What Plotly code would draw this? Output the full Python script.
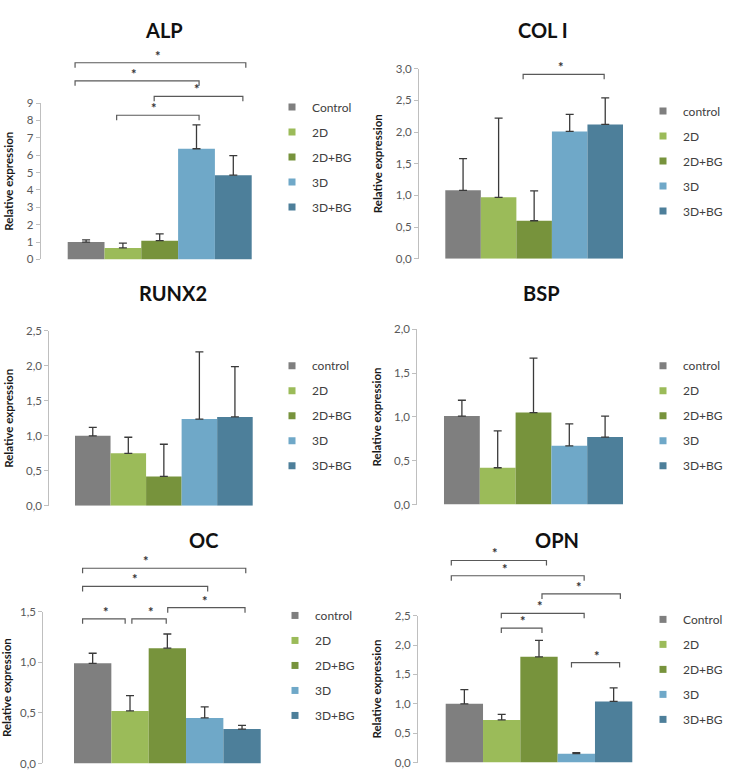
import plotly.graph_objects as go

W, H = 737, 781

# ---------------- data ----------------
colors = ["#7f7f7f", "#9bbb59", "#77933c", "#6fa8c8", "#4d7f9a"]

titles = ["ALP", "COL I", "RUNX2", "BSP", "OC", "OPN"]

labels_alp = ["Control", "2D", "2D+BG", "3D", "3D+BG"]
labels_col = ["control", "2D", "2D+BG", "3D", "3D+BG"]
labels_runx2 = ["control", "2D", "2D+BG", "3D", "3D+BG"]
labels_bsp = ["control", "2D", "2D+BG", "3D", "3D+BG"]
labels_oc = ["control", "2D", "2D+BG", "3D", "3D+BG"]
labels_opn = ["Control", "2D", "2D+BG", "3D", "3D+BG"]

alp_mean = [1.00, 0.66, 1.08, 6.37, 4.85]
alp_err = [0.12, 0.28, 0.39, 1.38, 1.13]
col_mean = [1.08, 0.97, 0.60, 2.01, 2.12]
col_err = [0.50, 1.25, 0.47, 0.27, 0.42]
runx2_mean = [1.00, 0.75, 0.42, 1.24, 1.27]
runx2_err = [0.12, 0.23, 0.46, 0.96, 0.72]
bsp_mean = [1.01, 0.42, 1.05, 0.67, 0.77]
bsp_err = [0.18, 0.42, 0.62, 0.25, 0.24]
oc_mean = [0.99, 0.52, 1.14, 0.45, 0.34]
oc_err = [0.10, 0.15, 0.14, 0.11, 0.036]
opn_mean = [1.00, 0.725, 1.80, 0.15, 1.04]
opn_err = [0.24, 0.095, 0.28, 0.02, 0.23]

y_max = [9, 3.0, 2.5, 2.0, 1.5, 2.5]
y_dtick = [1, 0.5, 0.5, 0.5, 0.5, 0.5]
y_fmt = ["d", ".1f", ".1f", ".1f", ".1f", ".1f"]

# significance brackets: (left position, right position, level, star position)
alp_brackets = [(-0.30, 4.34, 11.32, 1.95), (-0.30, 3.07, 10.28, 1.30),
                (1.85, 4.26, 9.39, 3.01), (0.83, 3.07, 8.30, 1.85)]
col_brackets = [(1.69, 3.97, 2.91, 2.76)]
runx2_brackets = []
bsp_brackets = []
oc_brackets = [(-0.27, 4.10, 1.93, 1.42), (-0.27, 3.08, 1.75, 1.14),
               (2.01, 4.08, 1.54, 3.01), (-0.27, 0.87, 1.43, 0.36),
               (1.05, 1.97, 1.43, 1.56)]
opn_brackets = [(-0.35, 2.20, 3.44, 0.81), (-0.35, 3.21, 3.18, 1.08),
                (2.08, 4.18, 2.87, 3.07), (0.99, 3.21, 2.54, 2.02),
                (0.99, 2.08, 2.29, 1.57), (2.87, 4.16, 1.70, 3.56)]

means = [alp_mean, col_mean, runx2_mean, bsp_mean, oc_mean, opn_mean]
errs = [alp_err, col_err, runx2_err, bsp_err, oc_err, opn_err]
labels = [labels_alp, labels_col, labels_runx2, labels_bsp, labels_oc, labels_opn]
brackets = [alp_brackets, col_brackets, runx2_brackets, bsp_brackets, oc_brackets, opn_brackets]

# ---------------- layout boxes (pixels) ----------------
# axis_x, bar_left, bar_right, top_px, bottom_px, title_cx, title_cy, legend_text_x, legend_first_item_y
boxes = [
    (40.7, 67.7, 251.7, 97.7, 256.7, 164, 23, 312, 107),
    (419.0, 445.3, 623.0, 62.7, 256.0, 543, 23, 683, 111),
    (49.3, 75.0, 252.7, 329.3, 507.3, 173, 291, 312, 370),
    (417.3, 444.0, 623.0, 327.7, 506.0, 541, 291, 683, 370),
    (43.3, 74.0, 260.7, 615.0, 769.3, 203, 542, 315, 624),
    (418.0, 445.7, 632.3, 619.0, 768.3, 557, 542, 683, 628),
]

FONT = "Lato"
fig = go.Figure()
layout = dict(
    width=W, height=H, margin=dict(l=0, r=0, t=0, b=0),
    paper_bgcolor="white", plot_bgcolor="white",
    separators=", ", barmode="overlay", showlegend=True,
    font=dict(family=FONT, color="#404040"),
)
annotations = []
shapes = []

for k in range(6):
    ax_x, bl, br, top, bot, tcx, tcy, ltx, lcy = boxes[k]
    n = len(means[k])
    w = (br - bl) / n
    g = (bl - ax_x) / w
    r0, r1 = -0.5 - g, n - 0.5 + g
    right = br + (bl - ax_x)
    d0, d1 = ax_x / W, right / W
    yd0, yd1 = 1 - bot / H, 1 - top / H
    sfx = "" if k == 0 else str(k + 1)
    xa, ya = "x" + sfx, "y" + sfx
    lg = "legend" + sfx

    fig.add_trace(go.Bar(
        x=list(range(n)), y=means[k], width=1,
        marker=dict(color=colors, line=dict(width=0)),
        error_y=dict(type="data", symmetric=False, array=errs[k],
                     arrayminus=[0] * n, color="#3a3a3a", thickness=1.3, width=4),
        xaxis=xa, yaxis=ya, showlegend=False, hoverinfo="y",
    ))
    for i in range(n):
        fig.add_trace(go.Scatter(
            x=[None], y=[None], mode="markers", name=labels[k][i],
            marker=dict(symbol="square", size=7, color=colors[i]),
            xaxis=xa, yaxis=ya, legend=lg, legendgroup=f"g{k}_{i}",
        ))

    layout["xaxis" + sfx] = dict(domain=[d0, d1], range=[r0, r1], anchor=ya,
                                 visible=False, fixedrange=True)
    layout["yaxis" + sfx] = dict(
        domain=[yd0, yd1], range=[0, y_max[k]], anchor=xa,
        dtick=y_dtick[k], tick0=0, tickformat=y_fmt[k],
        showline=True, linecolor="#bfbfbf", linewidth=1,
        ticks="outside", ticklen=4, tickcolor="#bfbfbf",
        showgrid=False, zeroline=False,
        tickfont=dict(family=FONT, size=11.5, color="#595959"),
        title=dict(text="Relative expression", standoff=10,
                   font=dict(family=FONT, size=11.5, color="#1a1a1a", weight="bold")),
        fixedrange=True,
    )
    layout[lg] = dict(
        x=(ltx - 40) / W, xanchor="left", y=1 - (lcy - 20) / H, yanchor="top",
        bgcolor="rgba(0,0,0,0)", tracegroupgap=6,
        font=dict(family=FONT, size=12, color="#404040"),
    )
    annotations.append(dict(
        text=titles[k], x=tcx / W, y=1 - tcy / H, xref="paper", yref="paper",
        xanchor="center", yanchor="middle", showarrow=False,
        font=dict(family=FONT, size=20, color="#111111", weight="bold"),
    ))

    def px_x(p):
        return d0 + (p - r0) / (r1 - r0) * (d1 - d0)

    def py_y(v):
        return yd0 + v / y_max[k] * (yd1 - yd0)

    for (a, b, lev, sp) in brackets[k]:
        xa_p, xb_p, yl = px_x(a), px_x(b), py_y(lev)
        tick = 5 / H
        shapes.append(dict(
            type="path", xref="paper", yref="paper",
            path=f"M{xa_p},{yl - tick} L{xa_p},{yl} L{xb_p},{yl} L{xb_p},{yl - tick}",
            line=dict(color="#595959", width=1.2),
        ))
        annotations.append(dict(
            text="*", x=px_x(sp), y=yl, xref="paper", yref="paper",
            xanchor="center", yanchor="bottom", showarrow=False, yshift=-3,
            font=dict(family=FONT, size=13, color="#333333", weight="bold"),
        ))

layout["annotations"] = annotations
layout["shapes"] = shapes
fig.update_layout(**layout)
fig.write_html("out.html")
